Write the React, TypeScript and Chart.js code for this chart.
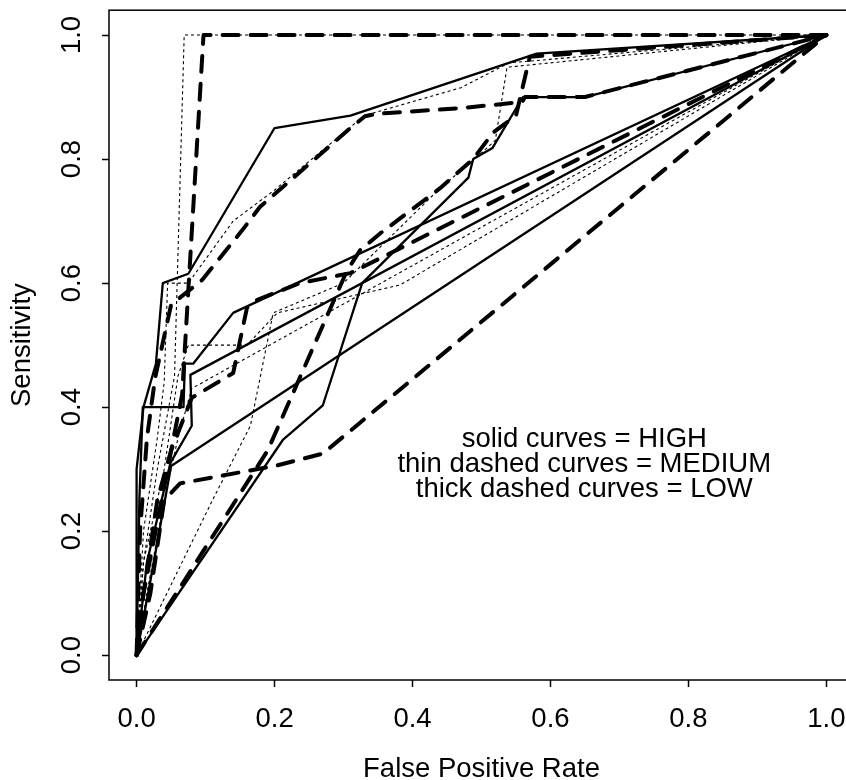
import React, { useEffect, useRef } from "react";
import { Chart, registerables } from "chart.js";

Chart.register(...registerables);

// ---------- tick labels ----------
const xTicks = [0, 0.2, 0.4, 0.6, 0.8, 1.0];
const yTicks = [0, 0.2, 0.4, 0.6, 0.8, 1.0];
const xTitle = "False Positive Rate";
const yTitle = "Sensitivity";

// ---------- HIGH (solid curves) ----------
const high1Fpr = [0, 0, 0.01, 0.028, 0.038, 0.075, 0.2, 0.31, 0.58, 1];
const high1Tpr = [0, 0.3, 0.4, 0.47, 0.6, 0.615, 0.85, 0.87, 0.97, 1];
const high2Fpr = [0, 0.004, 0.009, 0.068, 0.07, 0.082, 0.14, 1];
const high2Tpr = [0, 0.25, 0.4, 0.4, 0.47, 0.47, 0.552, 1];
const high3Fpr = [0, 0.015, 0.049, 0.08, 0.078, 1];
const high3Tpr = [0, 0.15, 0.31, 0.37, 0.452, 1];
const high4Fpr = [0, 0.02, 0.05, 1];
const high4Tpr = [0, 0.12, 0.305, 1];
const high5Fpr = [0, 0.212, 0.27, 0.327, 0.481, 0.488, 0.516, 0.56, 0.65, 1];
const high5Tpr = [0, 0.347, 0.403, 0.6, 0.77, 0.8, 0.818, 0.9, 0.9, 1];

// ---------- MEDIUM (thin dashed curves) ----------
const med1Fpr = [0, 0.01, 0.03, 0.055, 0.069, 1];
const med1Tpr = [0, 0.15, 0.3, 0.45, 1, 1];
const med2Fpr = [0, 0.01, 0.03, 0.04, 0.045, 0.075, 0.14, 0.2, 0.33, 0.47, 0.54, 1];
const med2Tpr = [0, 0.2, 0.35, 0.44, 0.6, 0.6, 0.7, 0.75, 0.87, 0.915, 0.955, 1];
const med3Fpr = [0, 0.11, 0.165, 0.198, 0.3, 0.44, 0.488, 0.52, 0.537, 1];
const med3Tpr = [0, 0.25, 0.37, 0.552, 0.6, 0.753, 0.798, 0.83, 0.948, 1];
const med4Fpr = [0, 0.01, 0.04, 0.06, 0.075, 0.16, 0.204, 0.382, 1];
const med4Tpr = [0, 0.15, 0.3, 0.45, 0.5, 0.5, 0.552, 0.597, 1];
const med5Fpr = [0, 0.015, 0.04, 0.06, 0.08, 1];
const med5Tpr = [0, 0.1, 0.25, 0.35, 0.43, 1];

// ---------- LOW (thick dashed curves) ----------
const low1Fpr = [0, 0.01, 0.039, 0.053, 0.066, 0.097, 1];
const low1Tpr = [0, 0.1, 0.266, 0.347, 0.42, 1, 1];
const low2Fpr = [0, 0.005, 0.015, 0.027, 0.05, 0.095, 0.153, 0.179, 0.31, 0.331, 0.349, 0.469, 0.559, 0.563, 0.65, 1];
const low2Tpr = [0, 0.2, 0.35, 0.448, 0.565, 0.605, 0.685, 0.723, 0.85, 0.869, 0.873, 0.882, 0.892, 0.9, 0.9, 1];
const low3Fpr = [0, 0.19, 0.305, 0.324, 0.353, 0.44, 0.488, 0.517, 0.55, 0.57, 1];
const low3Tpr = [0, 0.33, 0.62, 0.653, 0.68, 0.753, 0.8, 0.843, 0.87, 0.965, 1];
const low4Fpr = [0, 0.01, 0.03, 0.05, 0.08, 0.14, 0.16, 0.175, 0.237, 0.31, 1];
const low4Tpr = [0, 0.1, 0.25, 0.33, 0.415, 0.455, 0.56, 0.573, 0.6, 0.616, 1];
const low5Fpr = [0, 0.02, 0.04, 0.063, 0.204, 0.27, 1];
const low5Tpr = [0, 0.1, 0.25, 0.277, 0.306, 0.325, 1];

// ---------- annotation ----------
const noteLines = ["solid curves = HIGH", "thin dashed curves = MEDIUM", "thick dashed curves = LOW"];
const noteX = 0.649;
const noteY = [0.348, 0.307, 0.268];

const FONT_FAMILY = '"Liberation Sans", Arial, Helvetica, sans-serif';

type Curve = { fpr: number[]; tpr: number[]; group: "HIGH" | "MEDIUM" | "LOW" };

const curves: Curve[] = [
  { fpr: high1Fpr, tpr: high1Tpr, group: "HIGH" },
  { fpr: high2Fpr, tpr: high2Tpr, group: "HIGH" },
  { fpr: high3Fpr, tpr: high3Tpr, group: "HIGH" },
  { fpr: high4Fpr, tpr: high4Tpr, group: "HIGH" },
  { fpr: high5Fpr, tpr: high5Tpr, group: "HIGH" },
  { fpr: med1Fpr, tpr: med1Tpr, group: "MEDIUM" },
  { fpr: med2Fpr, tpr: med2Tpr, group: "MEDIUM" },
  { fpr: med3Fpr, tpr: med3Tpr, group: "MEDIUM" },
  { fpr: med4Fpr, tpr: med4Tpr, group: "MEDIUM" },
  { fpr: med5Fpr, tpr: med5Tpr, group: "MEDIUM" },
  { fpr: low1Fpr, tpr: low1Tpr, group: "LOW" },
  { fpr: low2Fpr, tpr: low2Tpr, group: "LOW" },
  { fpr: low3Fpr, tpr: low3Tpr, group: "LOW" },
  { fpr: low4Fpr, tpr: low4Tpr, group: "LOW" },
  { fpr: low5Fpr, tpr: low5Tpr, group: "LOW" },
];

const groupStyle: Record<string, any> = {
  HIGH: { borderWidth: 2.3, borderDash: [], borderCapStyle: "round", borderJoinStyle: "round" },
  MEDIUM: { borderWidth: 1.1, borderDash: [3, 3], borderCapStyle: "butt", borderJoinStyle: "miter" },
  LOW: { borderWidth: 4, borderDash: [16, 12], borderCapStyle: "round", borderJoinStyle: "round" },
};

const boxPlugin = {
  id: "rbox",
  afterDraw(chart: any) {
    const { ctx, chartArea } = chart;
    ctx.save();
    ctx.strokeStyle = "#000";
    ctx.lineWidth = 1.5;
    ctx.strokeRect(chartArea.left, chartArea.top, chartArea.right - chartArea.left, chartArea.bottom - chartArea.top);
    ctx.restore();
  },
};

const notePlugin = {
  id: "notes",
  afterDatasetsDraw(chart: any) {
    const { ctx, scales } = chart;
    ctx.save();
    ctx.fillStyle = "#000";
    ctx.font = `27.5px ${FONT_FAMILY}`;
    ctx.textAlign = "center";
    ctx.textBaseline = "middle";
    noteLines.forEach((t, i) => {
      ctx.fillText(t, scales.x.getPixelForValue(noteX), scales.y.getPixelForValue(noteY[i]));
    });
    ctx.restore();
  },
};

const zeroPad = (s: any) => {
  s.paddingTop = 0;
  s.paddingBottom = 0;
  s.paddingLeft = 0;
  s.paddingRight = 0;
};

export default function App() {
  const ref = useRef<HTMLCanvasElement | null>(null);

  useEffect(() => {
    if (!ref.current) return;
    const font = { family: FONT_FAMILY, size: 27.5 };
    const datasets = curves.map((c, i) => ({
      label: `${c.group}-${i}`,
      data: c.fpr.map((x, k) => ({ x, y: c.tpr[k] })),
      borderColor: "#000",
      backgroundColor: "#000",
      fill: false,
      tension: 0,
      pointRadius: 0,
      pointHoverRadius: 0,
      ...groupStyle[c.group],
    }));

    const chart = new Chart(ref.current, {
      type: "line",
      data: { datasets },
      options: {
        animation: false,
        responsive: false,
        devicePixelRatio: 1,
        layout: { padding: { left: 0, top: 10.2, right: 16, bottom: 0 } },
        plugins: { legend: { display: false }, tooltip: { enabled: false } },
        scales: {
          x: {
            type: "linear",
            min: -0.04,
            max: 1.04,
            afterBuildTicks: (s: any) => {
              s.ticks = xTicks.map((v) => ({ value: v }));
            },
            afterFit: (s: any) => {
              s.height = 100;
              zeroPad(s);
            },
            grid: { display: true, drawOnChartArea: false, drawTicks: true, tickLength: 7, tickColor: "#000", tickWidth: 1.5, color: "#000" },
            border: { display: false },
            ticks: {
              color: "#000",
              font,
              padding: 16,
              autoSkip: false,
              minRotation: 0,
              maxRotation: 0,
              callback: (v: any) => Number(v).toFixed(1),
            },
            title: { display: true, text: xTitle, color: "#000", font: { ...font, lineHeight: 0.76 }, padding: 0 },
          },
          y: {
            type: "linear",
            min: -0.04,
            max: 1.04,
            afterBuildTicks: (s: any) => {
              s.ticks = yTicks.map((v) => ({ value: v }));
            },
            afterFit: (s: any) => {
              s.width = 109;
              zeroPad(s);
            },
            grid: { display: true, drawOnChartArea: false, drawTicks: true, tickLength: 7, tickColor: "#000", tickWidth: 1.5, color: "#000" },
            border: { display: false },
            ticks: {
              color: "#000",
              font,
              padding: 10,
              autoSkip: false,
              minRotation: 90,
              maxRotation: 90,
              crossAlign: "center",
              callback: (v: any) => Number(v).toFixed(1),
            },
            title: { display: true, text: yTitle, color: "#000", font, padding: { top: 5.5, bottom: 0 } },
          },
        },
      } as any,
      plugins: [boxPlugin, notePlugin],
    });
    return () => chart.destroy();
  }, []);

  return (
    <div style={{ position: "fixed", left: 0, top: 0, width: 846, height: 780, overflow: "hidden", background: "#fff" }}>
      <canvas ref={ref} width={870} height={780} style={{ display: "block" }} />
    </div>
  );
}
